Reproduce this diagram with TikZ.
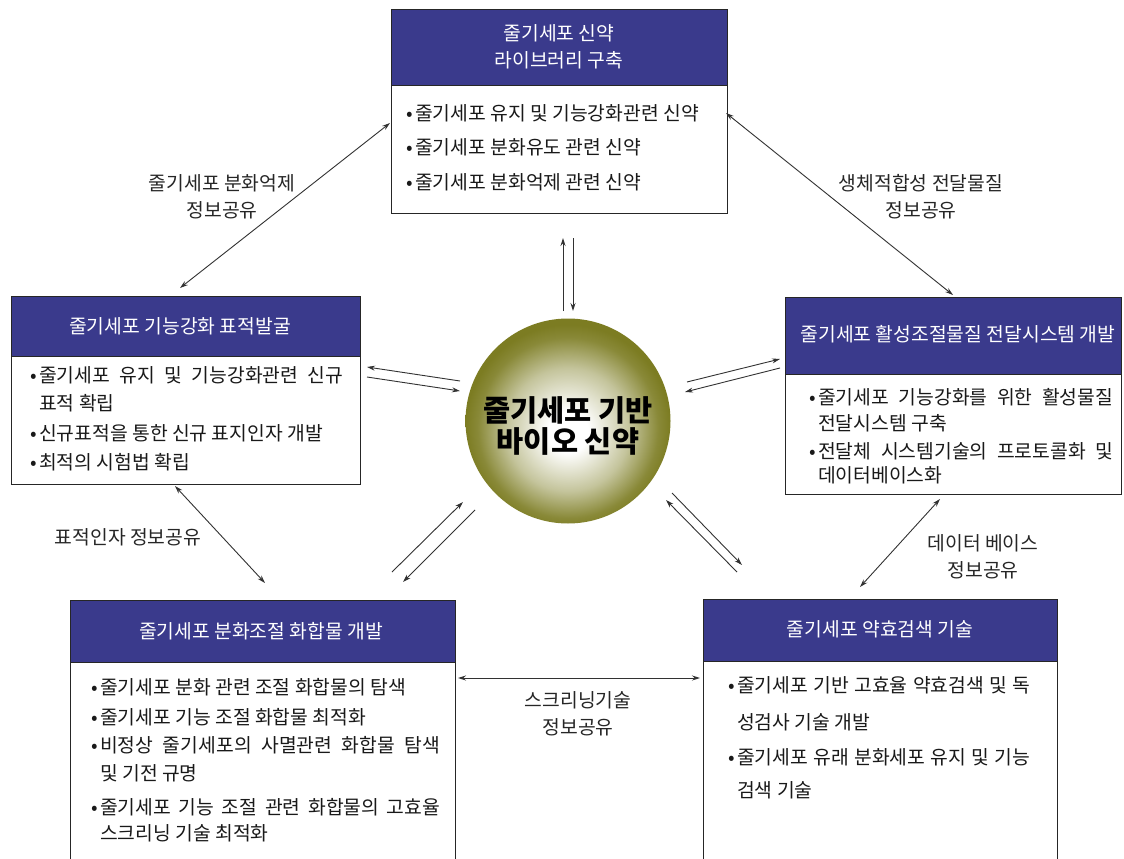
\documentclass[tikz,border=0pt]{standalone}
\usepackage{fontspec}
\newfontfamily\kr{Noto Sans CJK KR}
\usetikzlibrary{arrows.meta}
\definecolor{navy}{RGB}{58,58,140}
\definecolor{olivec}{RGB}{124,124,34}
\definecolor{linec}{RGB}{50,50,50}
\pgfdeclareradialshading{sph}{\pgfpoint{0bp}{-3bp}}{color(0bp)=(white); color(5bp)=(white); color(15bp)=(olivec!45!white); color(22bp)=(olivec!90!white); color(25bp)=(olivec); color(50bp)=(olivec)}
\newcommand\bul{\llap{•\hspace{2pt}}}
\newcommand\jus[2]{\makebox[#1pt][s]{#2}}
\tikzset{
  boxbody/.style={draw=black!85, line width=1.1pt, fill=white, anchor=north west, inner sep=0pt},
  boxhead/.style={draw=black!85, line width=1.1pt, fill=navy, anchor=north west, inner sep=0pt},
  htext/.style={text=white, font=\kr\fontsize{19.3}{27}\selectfont, align=center, inner sep=0pt},
  bt/.style={font=\kr\fontsize{19.3}{27}\selectfont, anchor=base west, inner sep=0pt, text=black!90},
  lbl/.style={font=\kr\fontsize{19.3}{27}\selectfont, align=center, inner sep=0pt, text=black!85},
  arr/.style={draw=linec, line width=0.9pt, -{Stealth[length=8pt,width=5pt]}},
  darr/.style={draw=linec, line width=0.9pt, {Stealth[length=8pt,width=5pt]}-{Stealth[length=8pt,width=5pt]}},
}
\begin{document}
\begin{tikzpicture}[x=1pt,y=-1pt]
\useasboundingbox[fill=white] (0,0) rectangle (1124,859);

% ---------- top box ----------
\node[boxbody, minimum width=336, minimum height=204] (top) at (391,9) {};
\node[boxhead, minimum width=336, minimum height=76] (toph) at (391,9) {};
\node[htext] (topt) at (559,47) {줄기세포 신약\\라이브러리 구축};
\node[bt] (t1) at (415,120) {\bul 줄기세포 유지 및 기능강화관련 신약};
\node[bt] (t2) at (415,154) {\bul 줄기세포 분화유도 관련 신약};
\node[bt] (t3) at (415,189) {\bul 줄기세포 분화억제 관련 신약};

% ---------- left box ----------
\node[boxbody, minimum width=349, minimum height=188] (lft) at (11,296) {};
\node[boxhead, minimum width=349, minimum height=60] (lfth) at (11,296) {};
\node[htext] (lftt) at (180,326) {줄기세포 기능강화 표적발굴};
\node[bt] (l1) at (39,382) {\bul\jus{304}{줄기세포 유지 및 기능강화관련 신규}};
\node[bt] (l2) at (39,410) {표적 확립};
\node[bt] (l3) at (39,440) {\bul 신규표적을 통한 신규 표지인자 개발};
\node[bt] (l4) at (39,469) {\bul 최적의 시험법 확립};

% ---------- right box ----------
\node[boxbody, minimum width=336, minimum height=197] (rgt) at (785,297) {};
\node[boxhead, minimum width=336, minimum height=77] (rgth) at (785,297) {};
\node[htext] (rgtt) at (958,334) {줄기세포 활성조절물질 전달시스템 개발};
\node[bt] (r1) at (818,404) {\bul\jus{295}{줄기세포 기능강화를 위한 활성물질}};
\node[bt] (r2) at (818,430) {전달시스템 구축};
\node[bt] (r3) at (818,458) {\bul\jus{295}{전달체 시스템기술의 프로토콜화 및}};
\node[bt] (r4) at (818,482) {데이터베이스화};

% ---------- bottom-left box ----------
\node[boxbody, minimum width=385, minimum height=280] (bl) at (70,600) {};
\node[boxhead, minimum width=385, minimum height=62] (blh) at (70,600) {};
\node[htext] (blt) at (261,631) {줄기세포 분화조절 화합물 개발};
\node[bt] (b1) at (100,694) {\bul 줄기세포 분화 관련 조절 화합물의 탐색};
\node[bt] (b2) at (100,724) {\bul 줄기세포 기능 조절 화합물 최적화};
\node[bt] (b3) at (100,752) {\bul\jus{340}{비정상 줄기세포의 사멸관련 화합물 탐색}};
\node[bt] (b4) at (100,780) {및 기전 규명};
\node[bt] (b5) at (100,814) {\bul\jus{340}{줄기세포 기능 조절 관련 화합물의 고효율}};
\node[bt] (b6) at (100,840) {스크리닝 기술 최적화};

% ---------- bottom-right box ----------
\node[boxbody, minimum width=354, minimum height=280] (br) at (703,599) {};
\node[boxhead, minimum width=354, minimum height=62] (brh) at (703,599) {};
\node[htext] (brt) at (880,629) {줄기세포 약효검색 기술};
\node[bt] (c1) at (737,692) {\bul\jus{293}{줄기세포 기반 고효율 약효검색 및 독}};
\node[bt] (c2) at (737,729) {성검사 기술 개발};
\node[bt] (c3) at (737,764) {\bul\jus{293}{줄기세포 유래 분화세포 유지 및 기능}};
\node[bt] (c4) at (737,797) {검색 기술};

% ---------- centre sphere ----------
\node[circle, minimum size=205pt, inner sep=0pt, shading=sph] (core) at (568,421) {};
\node[font=\kr\bfseries\fontsize{29.5}{31}\selectfont, align=center, inner sep=0pt] (coret) at (568,426) {줄기세포 기반\\바이오 신약};

% ---------- arrow end points ----------
\coordinate (u1) at (563,311); \coordinate (u2) at (563,238);
\coordinate (d1) at (573,238); \coordinate (d2) at (573,311);
\coordinate (la1) at (460,381); \coordinate (la2) at (367,367);
\coordinate (lb1) at (367,377); \coordinate (lb2) at (460,391);
\coordinate (ra1) at (687,382); \coordinate (ra2) at (780,359);
\coordinate (rb1) at (780,368); \coordinate (rb2) at (685,392);
\coordinate (sa1) at (392,572); \coordinate (sa2) at (463,502);
\coordinate (sb1) at (475,510); \coordinate (sb2) at (403,582);
\coordinate (ea1) at (672,493); \coordinate (ea2) at (742,565);
\coordinate (eb1) at (737,572); \coordinate (eb2) at (666,500);
\coordinate (p1) at (180,288); \coordinate (p2) at (390,123);
\coordinate (q1) at (726,113); \coordinate (q2) at (953,295);
\coordinate (s1) at (175,486); \coordinate (s2) at (265,583);
\coordinate (v1) at (940,499); \coordinate (v2) at (860,587);
\coordinate (h1) at (458,678); \coordinate (h2) at (700,678);

\draw[arr] (u1) -- (u2);
\draw[arr] (d1) -- (d2);
\draw[arr] (la1) -- (la2);
\draw[arr] (lb1) -- (lb2);
\draw[arr] (ra1) -- (ra2);
\draw[arr] (rb1) -- (rb2);
\draw[arr] (sa1) -- (sa2);
\draw[arr] (sb1) -- (sb2);
\draw[arr] (ea1) -- (ea2);
\draw[arr] (eb1) -- (eb2);
\draw[darr] (p1) -- (p2);
\draw[darr] (q1) -- (q2);
\draw[darr] (s1) -- (s2);
\draw[darr] (v1) -- (v2);
\draw[darr] (h1) -- (h2);

% ---------- labels ----------
\node[lbl] (lab1) at (222,197) {줄기세포 분화억제\\정보공유};
\node[lbl] (lab2) at (921,197) {생체적합성 전달물질\\정보공유};
\node[lbl] (lab3) at (128,537) {표적인자 정보공유};
\node[lbl] (lab4) at (983,557) {데이터 베이스\\정보공유};
\node[lbl] (lab5) at (578,714) {스크리닝기술\\정보공유};
\end{tikzpicture}
\end{document}
